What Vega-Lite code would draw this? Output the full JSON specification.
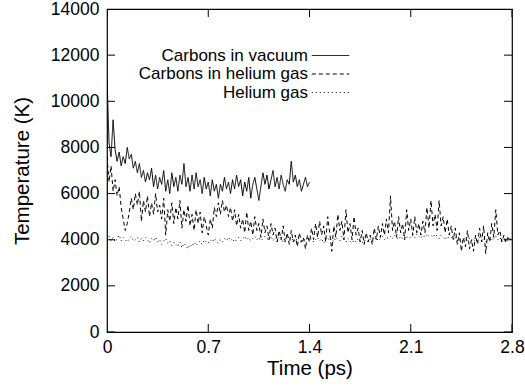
{
  "$schema": "https://vega.github.io/schema/vega-lite/v6.json",
  "width": 405,
  "height": 323,
  "autosize": "none",
  "padding": {"left": 107, "top": 9, "right": 13, "bottom": 58},
  "config": {
    "font": "Liberation Sans",
    "view": {"stroke": "black", "strokeWidth": 1.2},
    "axis": {"domain": false, "grid": false, "ticks": false, "tickSize": 0, "labelColor": "black", "titleColor": "black", "titleFontWeight": "normal"}
  },
  "datasets": {
    "xticks": [{"t": 0}, {"t": 0.7}, {"t": 1.4}, {"t": 2.1}, {"t": 2.8}],
    "yticks": [{"T": 0}, {"T": 2000}, {"T": 4000}, {"T": 6000}, {"T": 8000}, {"T": 10000}, {"T": 12000}, {"T": 14000}],
    "temps": [
    {"t":0,"v":11000,"h":7600,"g":4000},
    {"t":0.014,"v":8200,"h":6500,"g":4150},
    {"t":0.028,"v":7600,"h":7200,"g":3950},
    {"t":0.042,"v":9200,"h":6100,"g":4100},
    {"t":0.056,"v":7900,"h":6600,"g":3900},
    {"t":0.07,"v":7400,"h":5900,"g":4050},
    {"t":0.084,"v":7800,"h":6300,"g":4200},
    {"t":0.098,"v":7200,"h":5400,"g":3950},
    {"t":0.112,"v":7600,"h":4900,"g":4100},
    {"t":0.126,"v":7300,"h":4400,"g":4000},
    {"t":0.14,"v":8000,"h":4700,"g":3900},
    {"t":0.154,"v":7500,"h":5200,"g":4050},
    {"t":0.168,"v":7700,"h":5800,"g":4150},
    {"t":0.182,"v":7100,"h":5300,"g":3950},
    {"t":0.196,"v":7400,"h":6000,"g":4000},
    {"t":0.21,"v":6900,"h":5500,"g":4100},
    {"t":0.224,"v":7300,"h":6100,"g":3900},
    {"t":0.238,"v":6700,"h":4800,"g":4050},
    {"t":0.252,"v":7000,"h":5700,"g":3950},
    {"t":0.266,"v":6500,"h":5200,"g":4100},
    {"t":0.28,"v":6900,"h":5900,"g":4000},
    {"t":0.294,"v":6600,"h":5000,"g":3850},
    {"t":0.308,"v":7100,"h":5600,"g":4050},
    {"t":0.322,"v":6300,"h":5100,"g":3950},
    {"t":0.336,"v":6800,"h":6000,"g":4100},
    {"t":0.35,"v":6200,"h":5200,"g":3900},
    {"t":0.364,"v":6700,"h":5500,"g":4000},
    {"t":0.378,"v":6400,"h":4900,"g":3800},
    {"t":0.392,"v":7000,"h":5800,"g":3950},
    {"t":0.406,"v":6100,"h":4200,"g":4050},
    {"t":0.42,"v":6600,"h":5300,"g":3850},
    {"t":0.434,"v":6000,"h":4800,"g":3950},
    {"t":0.448,"v":6900,"h":5600,"g":3750},
    {"t":0.462,"v":6300,"h":4700,"g":3900},
    {"t":0.476,"v":6700,"h":5400,"g":3800},
    {"t":0.49,"v":6100,"h":4900,"g":3700},
    {"t":0.504,"v":6800,"h":5700,"g":3900},
    {"t":0.518,"v":6400,"h":4500,"g":3650},
    {"t":0.532,"v":7300,"h":5300,"g":3850},
    {"t":0.546,"v":6300,"h":4800,"g":3750},
    {"t":0.56,"v":6700,"h":5500,"g":3600},
    {"t":0.574,"v":6100,"h":4600,"g":3800},
    {"t":0.588,"v":6800,"h":5100,"g":3700},
    {"t":0.602,"v":6200,"h":4400,"g":3900},
    {"t":0.616,"v":6900,"h":5300,"g":3750},
    {"t":0.63,"v":6300,"h":4700,"g":3850},
    {"t":0.644,"v":6600,"h":5200,"g":3950},
    {"t":0.658,"v":6000,"h":4300,"g":3800},
    {"t":0.672,"v":6700,"h":5000,"g":4000},
    {"t":0.686,"v":6200,"h":4600,"g":3900},
    {"t":0.7,"v":6500,"h":4200,"g":3850},
    {"t":0.714,"v":5900,"h":4900,"g":4000},
    {"t":0.728,"v":6600,"h":4500,"g":3900},
    {"t":0.742,"v":6100,"h":5400,"g":4050},
    {"t":0.756,"v":6400,"h":5000,"g":3950},
    {"t":0.77,"v":5800,"h":5600,"g":3850},
    {"t":0.784,"v":6400,"h":5100,"g":4000},
    {"t":0.798,"v":6100,"h":5700,"g":3900},
    {"t":0.812,"v":6700,"h":5200,"g":4050},
    {"t":0.826,"v":6200,"h":5500,"g":3950},
    {"t":0.84,"v":6500,"h":5000,"g":4100},
    {"t":0.854,"v":6000,"h":5400,"g":3950},
    {"t":0.868,"v":6600,"h":4800,"g":4050},
    {"t":0.882,"v":6200,"h":5300,"g":3900},
    {"t":0.896,"v":6800,"h":4600,"g":4000},
    {"t":0.91,"v":6300,"h":5100,"g":4100},
    {"t":0.924,"v":6600,"h":4500,"g":3950},
    {"t":0.938,"v":5900,"h":4900,"g":4050},
    {"t":0.952,"v":6500,"h":4300,"g":4150},
    {"t":0.966,"v":6100,"h":5200,"g":4000},
    {"t":0.98,"v":6700,"h":4400,"g":4100},
    {"t":0.994,"v":5800,"h":4800,"g":3950},
    {"t":1.008,"v":6400,"h":4200,"g":4050},
    {"t":1.022,"v":6700,"h":5000,"g":4150},
    {"t":1.036,"v":6200,"h":4400,"g":4000},
    {"t":1.05,"v":5700,"h":4700,"g":4100},
    {"t":1.064,"v":6300,"h":4100,"g":3950},
    {"t":1.078,"v":6900,"h":4900,"g":4050},
    {"t":1.092,"v":6400,"h":4300,"g":4150},
    {"t":1.106,"v":6800,"h":4600,"g":4050},
    {"t":1.12,"v":6200,"h":4000,"g":4000},
    {"t":1.134,"v":6600,"h":4700,"g":4150},
    {"t":1.148,"v":7000,"h":4200,"g":3950},
    {"t":1.162,"v":6300,"h":4500,"g":4100},
    {"t":1.176,"v":6700,"h":3900,"g":4000},
    {"t":1.19,"v":6200,"h":4400,"g":4150},
    {"t":1.204,"v":6800,"h":4000,"g":4050},
    {"t":1.218,"v":6400,"h":4600,"g":3900},
    {"t":1.232,"v":6100,"h":3900,"g":4100},
    {"t":1.246,"v":6600,"h":4300,"g":4000},
    {"t":1.26,"v":6400,"h":3800,"g":4150},
    {"t":1.274,"v":7400,"h":4400,"g":3950},
    {"t":1.288,"v":6500,"h":3900,"g":4050},
    {"t":1.302,"v":6800,"h":4200,"g":3900},
    {"t":1.316,"v":6300,"h":3700,"g":4100},
    {"t":1.33,"v":6600,"h":4300,"g":4000},
    {"t":1.344,"v":6100,"h":3900,"g":3850},
    {"t":1.358,"v":6400,"h":4100,"g":4050},
    {"t":1.372,"v":6700,"h":3600,"g":3950},
    {"t":1.386,"v":6300,"h":4200,"g":4100},
    {"t":1.4,"v":6500,"h":3900,"g":3950},
    {"t":1.414,"h":4500,"g":4050},
    {"t":1.428,"h":4000,"g":3900},
    {"t":1.442,"h":4700,"g":4000},
    {"t":1.456,"h":4100,"g":4100},
    {"t":1.47,"h":4800,"g":3950},
    {"t":1.484,"h":4200,"g":4050},
    {"t":1.498,"h":4600,"g":3850},
    {"t":1.512,"h":3900,"g":4000},
    {"t":1.526,"h":5000,"g":4100},
    {"t":1.54,"h":4300,"g":3950},
    {"t":1.554,"h":3500,"g":4050},
    {"t":1.568,"h":4600,"g":3900},
    {"t":1.582,"h":4100,"g":4100},
    {"t":1.596,"h":5100,"g":4000},
    {"t":1.61,"h":4400,"g":3950},
    {"t":1.624,"h":4800,"g":4150},
    {"t":1.638,"h":4000,"g":4000},
    {"t":1.652,"h":5300,"g":3900},
    {"t":1.666,"h":4300,"g":4050},
    {"t":1.68,"h":4700,"g":3950},
    {"t":1.694,"h":4000,"g":3850},
    {"t":1.708,"h":5000,"g":4000},
    {"t":1.722,"h":4200,"g":3900},
    {"t":1.736,"h":4500,"g":4050},
    {"t":1.75,"h":3900,"g":3950},
    {"t":1.764,"h":4400,"g":3850},
    {"t":1.778,"h":3800,"g":4000},
    {"t":1.792,"h":4300,"g":3900},
    {"t":1.806,"h":3900,"g":3950},
    {"t":1.82,"h":4200,"g":4050},
    {"t":1.834,"h":3800,"g":3900},
    {"t":1.848,"h":4500,"g":4000},
    {"t":1.862,"h":4000,"g":4100},
    {"t":1.876,"h":4600,"g":3950},
    {"t":1.89,"h":4100,"g":4050},
    {"t":1.904,"h":4700,"g":4150},
    {"t":1.918,"h":4200,"g":4000},
    {"t":1.932,"h":4900,"g":4100},
    {"t":1.946,"h":4300,"g":4050},
    {"t":1.96,"h":5900,"g":4150},
    {"t":1.974,"h":4400,"g":4050},
    {"t":1.988,"h":4800,"g":4200},
    {"t":2.002,"h":4100,"g":4100},
    {"t":2.016,"h":5000,"g":4000},
    {"t":2.03,"h":4300,"g":4150},
    {"t":2.044,"h":4700,"g":4050},
    {"t":2.058,"h":4000,"g":4200},
    {"t":2.072,"h":5300,"g":4100},
    {"t":2.086,"h":4400,"g":4150},
    {"t":2.1,"h":4900,"g":4050},
    {"t":2.114,"h":4200,"g":4200},
    {"t":2.128,"h":5000,"g":4100},
    {"t":2.142,"h":4300,"g":4250},
    {"t":2.156,"h":4700,"g":4150},
    {"t":2.17,"h":4200,"g":4050},
    {"t":2.184,"h":4800,"g":4200},
    {"t":2.198,"h":4300,"g":4100},
    {"t":2.212,"h":5400,"g":4250},
    {"t":2.226,"h":4500,"g":4150},
    {"t":2.24,"h":5700,"g":4200},
    {"t":2.254,"h":4600,"g":4100},
    {"t":2.268,"h":5100,"g":4250},
    {"t":2.282,"h":4400,"g":4150},
    {"t":2.296,"h":5700,"g":4050},
    {"t":2.31,"h":4600,"g":4200},
    {"t":2.324,"h":5000,"g":4100},
    {"t":2.338,"h":4300,"g":4000},
    {"t":2.352,"h":4900,"g":4150},
    {"t":2.366,"h":4200,"g":4050},
    {"t":2.38,"h":4600,"g":4100},
    {"t":2.394,"h":4000,"g":4000},
    {"t":2.408,"h":4500,"g":4150},
    {"t":2.422,"h":3800,"g":3950},
    {"t":2.436,"h":4300,"g":4050},
    {"t":2.45,"h":3500,"g":3900},
    {"t":2.464,"h":4100,"g":4000},
    {"t":2.478,"h":3700,"g":4100},
    {"t":2.492,"h":4400,"g":3950},
    {"t":2.506,"h":3600,"g":4050},
    {"t":2.52,"h":4000,"g":3950},
    {"t":2.534,"h":3500,"g":4050},
    {"t":2.548,"h":4200,"g":3900},
    {"t":2.562,"h":3800,"g":4000},
    {"t":2.576,"h":4500,"g":4100},
    {"t":2.59,"h":3900,"g":3950},
    {"t":2.604,"h":4600,"g":4050},
    {"t":2.618,"h":3400,"g":3900},
    {"t":2.632,"h":4300,"g":4000},
    {"t":2.646,"h":3900,"g":4100},
    {"t":2.66,"h":4700,"g":3950},
    {"t":2.674,"h":4100,"g":4050},
    {"t":2.688,"h":5300,"g":4150},
    {"t":2.702,"h":4200,"g":4000},
    {"t":2.716,"h":4400,"g":4100},
    {"t":2.73,"h":3900,"g":3950},
    {"t":2.744,"h":4200,"g":4050},
    {"t":2.758,"h":3900,"g":3900},
    {"t":2.772,"h":4100,"g":4000},
    {"t":2.786,"h":4000,"g":4050},
    {"t":2.8,"h":4000,"g":4000}
    ]
  },
  "layer": [
    {
      "data": {"name": "temps"},
      "transform": [
        {"fold": ["v", "h", "g"], "as": ["series", "T"]},
        {"filter": "isValid(datum.T)"}
      ],
      "mark": {"type": "line", "color": "black", "strokeWidth": 1, "clip": true},
      "encoding": {
        "x": {"field": "t", "type": "quantitative", "title": "Time (ps)",
          "scale": {"domain": [0, 2.8], "nice": false, "zero": false},
          "axis": {"orient": "bottom", "values": [0, 0.7, 1.4, 2.1, 2.8], "format": "~g",
            "labelFontSize": 17.5, "labelPadding": 6, "labelFlush": false, "labelOverlap": false,
            "titleFontSize": 20.5, "titlePadding": 3}},
        "y": {"field": "T", "type": "quantitative", "title": "Temperature (K)",
          "scale": {"domain": [0, 14000], "nice": false},
          "axis": {"orient": "left", "values": [0, 2000, 4000, 6000, 8000, 10000, 12000, 14000], "format": "d",
            "labelFontSize": 17.5, "labelPadding": 8, "labelOverlap": false,
            "titleFontSize": 20.5, "titlePadding": 18}},
        "strokeDash": {"field": "series", "type": "nominal",
          "scale": {"domain": ["v", "h", "g"], "range": [[1, 0], [4, 3], [1, 3]]},
          "legend": {"orient": "none", "legendX": 215, "legendY": 38, "title": null, "padding": 0,
            "symbolType": "M-2.5,0H2.5", "symbolSize": 225, "symbolStrokeWidth": 1, "symbolStrokeColor": "black",
            "labelFontSize": 17, "labelColor": "black", "labelAlign": "right", "labelOffset": -31, "labelLimit": 400, "rowPadding": 0.5,
            "labelExpr": "datum.label == 'v' ? 'Carbons in vacuum' : datum.label == 'h' ? 'Carbons in helium gas' : 'Helium gas'"}}
      }
    },
    {
      "data": {"name": "xticks"},
      "mark": {"type": "tick", "orient": "vertical", "size": 16, "thickness": 1, "color": "black", "opacity": 1, "clip": true},
      "encoding": {
        "x": {"field": "t", "type": "quantitative", "title": "Time (ps)"},
        "y": {"datum": 0, "type": "quantitative"}
      }
    },
    {
      "data": {"name": "xticks"},
      "mark": {"type": "tick", "orient": "vertical", "size": 16, "thickness": 1, "color": "black", "opacity": 1, "clip": true},
      "encoding": {
        "x": {"field": "t", "type": "quantitative", "title": "Time (ps)"},
        "y": {"datum": 14000, "type": "quantitative"}
      }
    },
    {
      "data": {"name": "yticks"},
      "mark": {"type": "tick", "orient": "horizontal", "size": 16, "thickness": 1, "color": "black", "opacity": 1, "clip": true},
      "encoding": {
        "y": {"field": "T", "type": "quantitative", "title": "Temperature (K)"},
        "x": {"datum": 0, "type": "quantitative"}
      }
    },
    {
      "data": {"name": "yticks"},
      "mark": {"type": "tick", "orient": "horizontal", "size": 16, "thickness": 1, "color": "black", "opacity": 1, "clip": true},
      "encoding": {
        "y": {"field": "T", "type": "quantitative", "title": "Temperature (K)"},
        "x": {"datum": 2.8, "type": "quantitative"}
      }
    }
  ]
}
